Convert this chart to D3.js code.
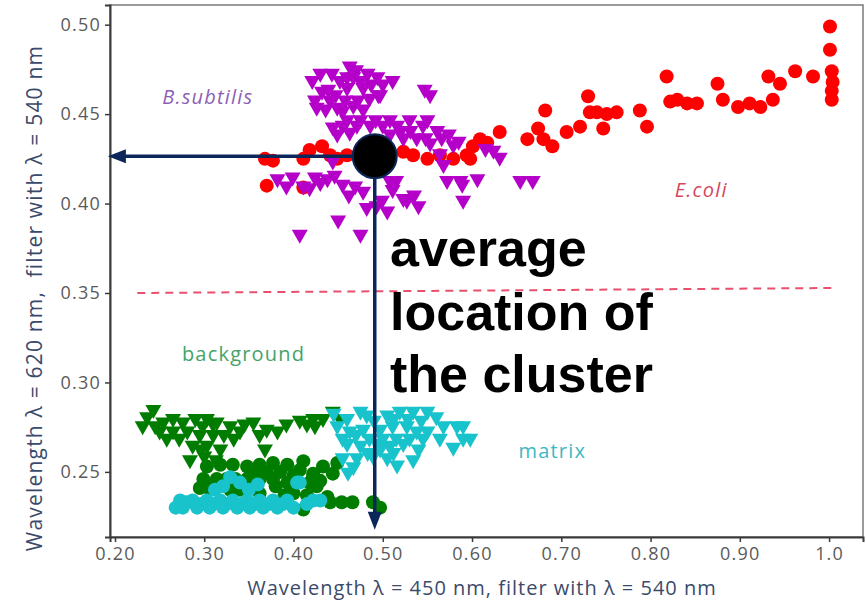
<!DOCTYPE html>
<html>
<head>
<meta charset="utf-8">
<script src="https://cdn.jsdelivr.net/npm/d3@7"></script>
<style>
    body { margin: 0; background: #fff; }
    svg { display: block; }
    .tick text { font-family: "Open Sans", Lato, sans-serif; font-size: 18px; letter-spacing: 1.2px; fill: #5a5a5a; }
</style>
</head>
<body>
<svg></svg>
<script>
// x = wavelength 450 nm, y = wavelength 620 nm (both)
const ecoliX = [0.368, 0.377, 0.370, 0.411, 0.411, 0.418, 0.432, 0.441, 0.460, 0.449, 0.523, 0.534, 0.550, 0.564, 0.579, 0.594, 0.601, 0.609, 0.631, 0.617, 0.598, 0.662, 0.674, 0.682, 0.680, 0.690, 0.706, 0.721, 0.730, 0.732, 0.740, 0.747, 0.751, 0.762, 0.788, 0.796, 0.818, 0.822, 0.830, 0.841, 0.852, 0.875, 0.881, 0.898, 0.911, 0.923, 0.932, 0.937, 0.945, 0.962, 0.982, 1.001, 1.001, 1.003, 1.004, 1.003, 1.003]
const ecoliY = [0.425, 0.424, 0.410, 0.425, 0.409, 0.430, 0.432, 0.427, 0.427, 0.425, 0.429, 0.427, 0.425, 0.427, 0.425, 0.427, 0.432, 0.436, 0.440, 0.434, 0.425, 0.436, 0.442, 0.452, 0.436, 0.432, 0.440, 0.443, 0.460, 0.451, 0.451, 0.442, 0.450, 0.451, 0.452, 0.443, 0.471, 0.457, 0.458, 0.456, 0.456, 0.467, 0.458, 0.454, 0.456, 0.454, 0.471, 0.458, 0.467, 0.474, 0.471, 0.499, 0.486, 0.474, 0.468, 0.463, 0.458]

const subtilisX = [0.463, 0.443, 0.483, 0.421, 0.452, 0.467, 0.494, 0.511, 0.547, 0.439, 0.460, 0.478, 0.495, 0.424, 0.441, 0.458, 0.472, 0.497, 0.553, 0.426, 0.449, 0.467, 0.444, 0.455, 0.471, 0.486, 0.500, 0.516, 0.531, 0.545, 0.561, 0.449, 0.463, 0.508, 0.523, 0.538, 0.553, 0.566, 0.564, 0.568, 0.444, 0.572, 0.382, 0.399, 0.424, 0.438, 0.446, 0.411, 0.430, 0.469, 0.478, 0.508, 0.511, 0.499, 0.523, 0.527, 0.482, 0.540, 0.450, 0.407, 0.475, 0.579, 0.589, 0.606, 0.590, 0.624, 0.631, 0.615, 0.654, 0.668, 0.587,
    0.430, 0.470, 0.475, 0.487, 0.432, 0.485, 0.447, 0.436, 0.478, 0.460, 0.500, 0.455, 0.460, 0.475, 0.492, 0.508, 0.530, 0.550, 0.520, 0.574, 0.585, 0.548, 0.392, 0.418, 0.455, 0.462, 0.515, 0.535, 0.493, 0.505]
const subtilisY = [0.476, 0.472, 0.472, 0.468, 0.468, 0.470, 0.470, 0.468, 0.463, 0.463, 0.464, 0.464, 0.460, 0.457, 0.457, 0.457, 0.457, 0.460, 0.460, 0.453, 0.453, 0.454, 0.442, 0.443, 0.443, 0.443, 0.443, 0.443, 0.440, 0.443, 0.440, 0.438, 0.439, 0.438, 0.436, 0.436, 0.433, 0.436, 0.427, 0.421, 0.423, 0.412, 0.413, 0.414, 0.414, 0.413, 0.415, 0.409, 0.411, 0.409, 0.406, 0.412, 0.407, 0.401, 0.402, 0.401, 0.397, 0.398, 0.390, 0.382, 0.382, 0.432, 0.410, 0.413, 0.401, 0.429, 0.425, 0.430, 0.412, 0.412, 0.412,
    0.472, 0.474, 0.468, 0.466, 0.462, 0.458, 0.460, 0.452, 0.452, 0.470, 0.466, 0.451, 0.446, 0.446, 0.446, 0.446, 0.446, 0.446, 0.440, 0.438, 0.434, 0.436, 0.409, 0.408, 0.410, 0.404, 0.412, 0.404, 0.398, 0.395]

const bgTriX = [0.243, 0.231, 0.245, 0.254, 0.265, 0.276, 0.290, 0.303, 0.314, 0.329, 0.340, 0.355, 0.370, 0.382, 0.407, 0.250, 0.265, 0.281, 0.295, 0.310, 0.287, 0.303, 0.318, 0.284, 0.368, 0.422, 0.424, 0.433, 0.444,
    0.236, 0.258, 0.272, 0.298, 0.310, 0.322, 0.333, 0.296, 0.345, 0.362, 0.392, 0.415, 0.452, 0.300, 0.313]
const bgTriY = [0.284, 0.275, 0.275, 0.277, 0.279, 0.277, 0.279, 0.279, 0.277, 0.275, 0.272, 0.277, 0.273, 0.272, 0.278, 0.272, 0.272, 0.272, 0.270, 0.270, 0.264, 0.264, 0.262, 0.256, 0.262, 0.279, 0.275, 0.279, 0.283,
    0.280, 0.268, 0.268, 0.275, 0.276, 0.270, 0.268, 0.262, 0.276, 0.270, 0.276, 0.276, 0.279, 0.258, 0.256]

const bgDotX = [0.303, 0.318, 0.332, 0.348, 0.362, 0.377, 0.393, 0.411, 0.299, 0.314, 0.348, 0.362, 0.377, 0.393, 0.407, 0.422, 0.433, 0.295, 0.426, 0.438, 0.411, 0.422, 0.444, 0.449, 0.418, 0.441, 0.454, 0.466, 0.489, 0.497, 0.329, 0.362, 0.390,
    0.325, 0.335, 0.355, 0.370, 0.385, 0.400, 0.305, 0.340, 0.380, 0.400, 0.415, 0.430]
const bgDotY = [0.253, 0.254, 0.254, 0.253, 0.254, 0.255, 0.254, 0.256, 0.246, 0.246, 0.246, 0.246, 0.246, 0.244, 0.251, 0.247, 0.253, 0.241, 0.242, 0.236, 0.229, 0.249, 0.249, 0.255, 0.244, 0.233, 0.233, 0.233, 0.233, 0.230, 0.240, 0.238, 0.237,
    0.246, 0.246, 0.250, 0.250, 0.250, 0.248, 0.241, 0.240, 0.242, 0.238, 0.237, 0.245]

const matrixDotX = [0.329, 0.340, 0.321, 0.404, 0.273, 0.287, 0.303, 0.318, 0.332, 0.348, 0.362, 0.377, 0.393, 0.422, 0.276, 0.292, 0.306, 0.321, 0.337, 0.351, 0.366, 0.382, 0.407,
    0.280, 0.296, 0.310, 0.325, 0.342, 0.356, 0.372, 0.388, 0.400, 0.268, 0.350, 0.312, 0.360, 0.415, 0.430]
const matrixDotY = [0.247, 0.244, 0.242, 0.244, 0.234, 0.234, 0.234, 0.234, 0.234, 0.234, 0.234, 0.234, 0.234, 0.234, 0.230, 0.230, 0.230, 0.230, 0.230, 0.230, 0.230, 0.230, 0.244,
    0.233, 0.232, 0.232, 0.232, 0.232, 0.232, 0.232, 0.232, 0.230, 0.230, 0.240, 0.240, 0.243, 0.232, 0.234]

const matrixTriX = [0.449, 0.460, 0.475, 0.482, 0.505, 0.519, 0.534, 0.550, 0.463, 0.478, 0.497, 0.511, 0.527, 0.538, 0.550, 0.568, 0.583, 0.590, 0.564, 0.579, 0.598, 0.460, 0.475, 0.494, 0.508, 0.523, 0.471, 0.489, 0.505, 0.516, 0.534, 0.461, 0.455,
    0.490, 0.512, 0.528, 0.543, 0.560, 0.485, 0.500, 0.515, 0.530, 0.545, 0.470, 0.483, 0.497, 0.512, 0.540, 0.467, 0.455, 0.445, 0.590]
const matrixTriY = [0.275, 0.279, 0.283, 0.281, 0.281, 0.283, 0.283, 0.283, 0.272, 0.273, 0.273, 0.275, 0.275, 0.272, 0.272, 0.275, 0.275, 0.275, 0.268, 0.263, 0.268, 0.265, 0.264, 0.265, 0.264, 0.265, 0.257, 0.258, 0.257, 0.253, 0.256, 0.249, 0.257,
    0.278, 0.279, 0.279, 0.278, 0.280, 0.268, 0.268, 0.268, 0.268, 0.268, 0.270, 0.260, 0.262, 0.260, 0.262, 0.252, 0.268, 0.282, 0.268]

const xTicks = [0.2, 0.3, 0.4, 0.5, 0.6, 0.7, 0.8, 0.9, 1.0]
const xTickLabels = ["0.20", "0.30", "0.40", "0.50", "0.60", "0.70", "0.80", "0.90", "1.0"]
const yTicks = [0.25, 0.30, 0.35, 0.40, 0.45, 0.50]

// dashed separator line, two end points
const cutX = [0.225, 1.005]
const cutY = [0.350, 0.3528]

// average location of the cluster
const avgX = 0.491
const avgY = 0.4265

const w = 866
const h = 603
const plotLeft = 110
const plotRight = 863
const plotTop = 5
const plotBottom = 537

const svg = d3.select("svg")
    .attr("width", w)
    .attr("height", h)

//Create scale
const xScale = d3.scaleLinear()
    .domain([0.1944, 1.038])
    .range([plotLeft, plotRight])

const yScale = d3.scaleLinear()
    .domain([0.2136, 0.511])
    .range([plotBottom, plotTop])

//Frame
svg.append("rect")
    .attr("x", plotLeft)
    .attr("y", plotTop)
    .attr("width", plotRight - plotLeft)
    .attr("height", plotBottom - plotTop)
    .attr("fill", "none")
    .attr("stroke", "#7a7a7a")
    .attr("stroke-width", 1.5)

//Create axis
const axisBottom = d3.axisBottom(xScale)
    .tickValues(xTicks)
    .tickFormat((d, i) => xTickLabels[i])
    .tickSizeOuter(0)
    .tickSize(5)
    .tickPadding(5)

const axisLeft = d3.axisLeft(yScale)
    .tickValues(yTicks)
    .tickFormat(d3.format(".2f"))
    .tickSizeOuter(0)
    .tickSize(5)
    .tickPadding(4)

const gx = svg.append("g")
    .attr("transform", `translate(0, ${plotBottom})`)
    .call(axisBottom)

const gy = svg.append("g")
    .attr("transform", `translate(${plotLeft}, 0)`)
    .call(axisLeft)

gx.select(".domain").attr("stroke", "#3a3a3a").attr("stroke-width", 2)
gy.select(".domain").attr("stroke", "#3a3a3a").attr("stroke-width", 2)
gx.selectAll(".tick line").attr("stroke", "#3a3a3a").attr("stroke-width", 1.5)
gy.selectAll(".tick line").attr("stroke", "#3a3a3a").attr("stroke-width", 1.5)

//Axis titles
const titleFont = "'Open Sans', Lato, sans-serif"

svg.append("text")
    .attr("x", 482)
    .attr("y", 595)
    .attr("text-anchor", "middle")
    .attr("font-family", titleFont)
    .attr("font-size", 20)
    .attr("letter-spacing", 1)
    .attr("fill", "#3b4a6b")
    .text("Wavelength λ = 450 nm, filter with λ = 540 nm")

svg.append("text")
    .attr("transform", "translate(42, 298) rotate(-90)")
    .attr("text-anchor", "middle")
    .attr("font-family", titleFont)
    .attr("font-size", 21)
    .attr("letter-spacing", 1.2)
    .attr("fill", "#3b4a6b")
    .attr("xml:space", "preserve")
    .text("Wavelength λ = 620 nm,  filter with λ = 540 nm")

//Dashed line
svg.append("line")
    .attr("x1", xScale(cutX[0]))
    .attr("y1", yScale(cutY[0]))
    .attr("x2", xScale(cutX[1]))
    .attr("y2", yScale(cutY[1]))
    .attr("stroke", "#e8506e")
    .attr("stroke-width", 2)
    .attr("stroke-dasharray", "8 6")

//Markers
const triangle = "M-8,-6L8,-6L0,8Z"

function drawDots(xs, ys, color){
    svg.append("g")
        .selectAll("circle")
        .data(xs.map((x, i) => [x, ys[i]]))
        .enter()
        .append("circle")
        .attr("cx", d => xScale(d[0]))
        .attr("cy", d => yScale(d[1]))
        .attr("r", 7)
        .attr("fill", color)
}

function drawTriangles(xs, ys, color){
    svg.append("g")
        .selectAll("path")
        .data(xs.map((x, i) => [x, ys[i]]))
        .enter()
        .append("path")
        .attr("d", triangle)
        .attr("transform", d => `translate(${xScale(d[0])}, ${yScale(d[1])})`)
        .attr("fill", color)
}

drawDots(ecoliX, ecoliY, "#ff0000")
drawTriangles(subtilisX, subtilisY, "#b400c8")
drawTriangles(bgTriX, bgTriY, "#007d00")
drawDots(bgDotX, bgDotY, "#007d00")
drawDots(matrixDotX, matrixDotY, "#19c3cb")
drawTriangles(matrixTriX, matrixTriY, "#19c3cb")

//Cluster labels
const labelFont = "'Open Sans', Lato, sans-serif"

svg.append("text")
    .attr("x", xScale(0.253))
    .attr("y", yScale(0.4556))
    .attr("font-family", labelFont)
    .attr("font-style", "italic")
    .attr("font-size", 20)
    .attr("letter-spacing", 1.2)
    .attr("fill", "#8d5fb4")
    .text("B.subtilis")

svg.append("text")
    .attr("x", xScale(0.827))
    .attr("y", yScale(0.4036))
    .attr("font-family", labelFont)
    .attr("font-style", "italic")
    .attr("font-size", 20)
    .attr("letter-spacing", 1.2)
    .attr("fill", "#d8455c")
    .text("E.coli")

svg.append("text")
    .attr("x", xScale(0.275))
    .attr("y", yScale(0.312))
    .attr("font-family", labelFont)
    .attr("font-size", 20)
    .attr("letter-spacing", 1.2)
    .attr("fill", "#45a36a")
    .text("background")

svg.append("text")
    .attr("x", xScale(0.652))
    .attr("y", yScale(0.2578))
    .attr("font-family", labelFont)
    .attr("font-size", 20)
    .attr("letter-spacing", 1.2)
    .attr("fill", "#3cb9c3")
    .text("matrix")

//Arrows from the average location
const navy = "#0b2659"
const cx = xScale(avgX)
const cy = yScale(avgY)
const arrowLeft = xScale(0.192)
const arrowDown = yScale(0.2176)

svg.append("line")
    .attr("x1", cx)
    .attr("y1", cy)
    .attr("x2", arrowLeft + 16)
    .attr("y2", cy)
    .attr("stroke", navy)
    .attr("stroke-width", 3.5)

svg.append("path")
    .attr("d", `M${arrowLeft},${cy}L${arrowLeft + 18},${cy - 7}L${arrowLeft + 18},${cy + 7}Z`)
    .attr("fill", navy)

svg.append("line")
    .attr("x1", cx)
    .attr("y1", cy)
    .attr("x2", cx)
    .attr("y2", arrowDown - 16)
    .attr("stroke", navy)
    .attr("stroke-width", 3.5)

svg.append("path")
    .attr("d", `M${cx},${arrowDown}L${cx - 7},${arrowDown - 18}L${cx + 7},${arrowDown - 18}Z`)
    .attr("fill", navy)

svg.append("circle")
    .attr("cx", cx)
    .attr("cy", cy)
    .attr("r", 22)
    .attr("fill", "#000")
    .attr("stroke", navy)
    .attr("stroke-width", 2)

//Big annotation
const note = svg.append("text")
    .attr("font-family", "'Liberation Sans', Arial, sans-serif")
    .attr("font-weight", "bold")
    .attr("font-size", 52)
    .attr("fill", "#000")

const noteLines = ["average", "location of", "the cluster"]
const noteBaselines = [266, 330, 392]

noteLines.forEach((t, i) => {
    note.append("tspan")
        .attr("x", 390)
        .attr("y", noteBaselines[i])
        .text(t)
})
</script>
</body>
</html>
